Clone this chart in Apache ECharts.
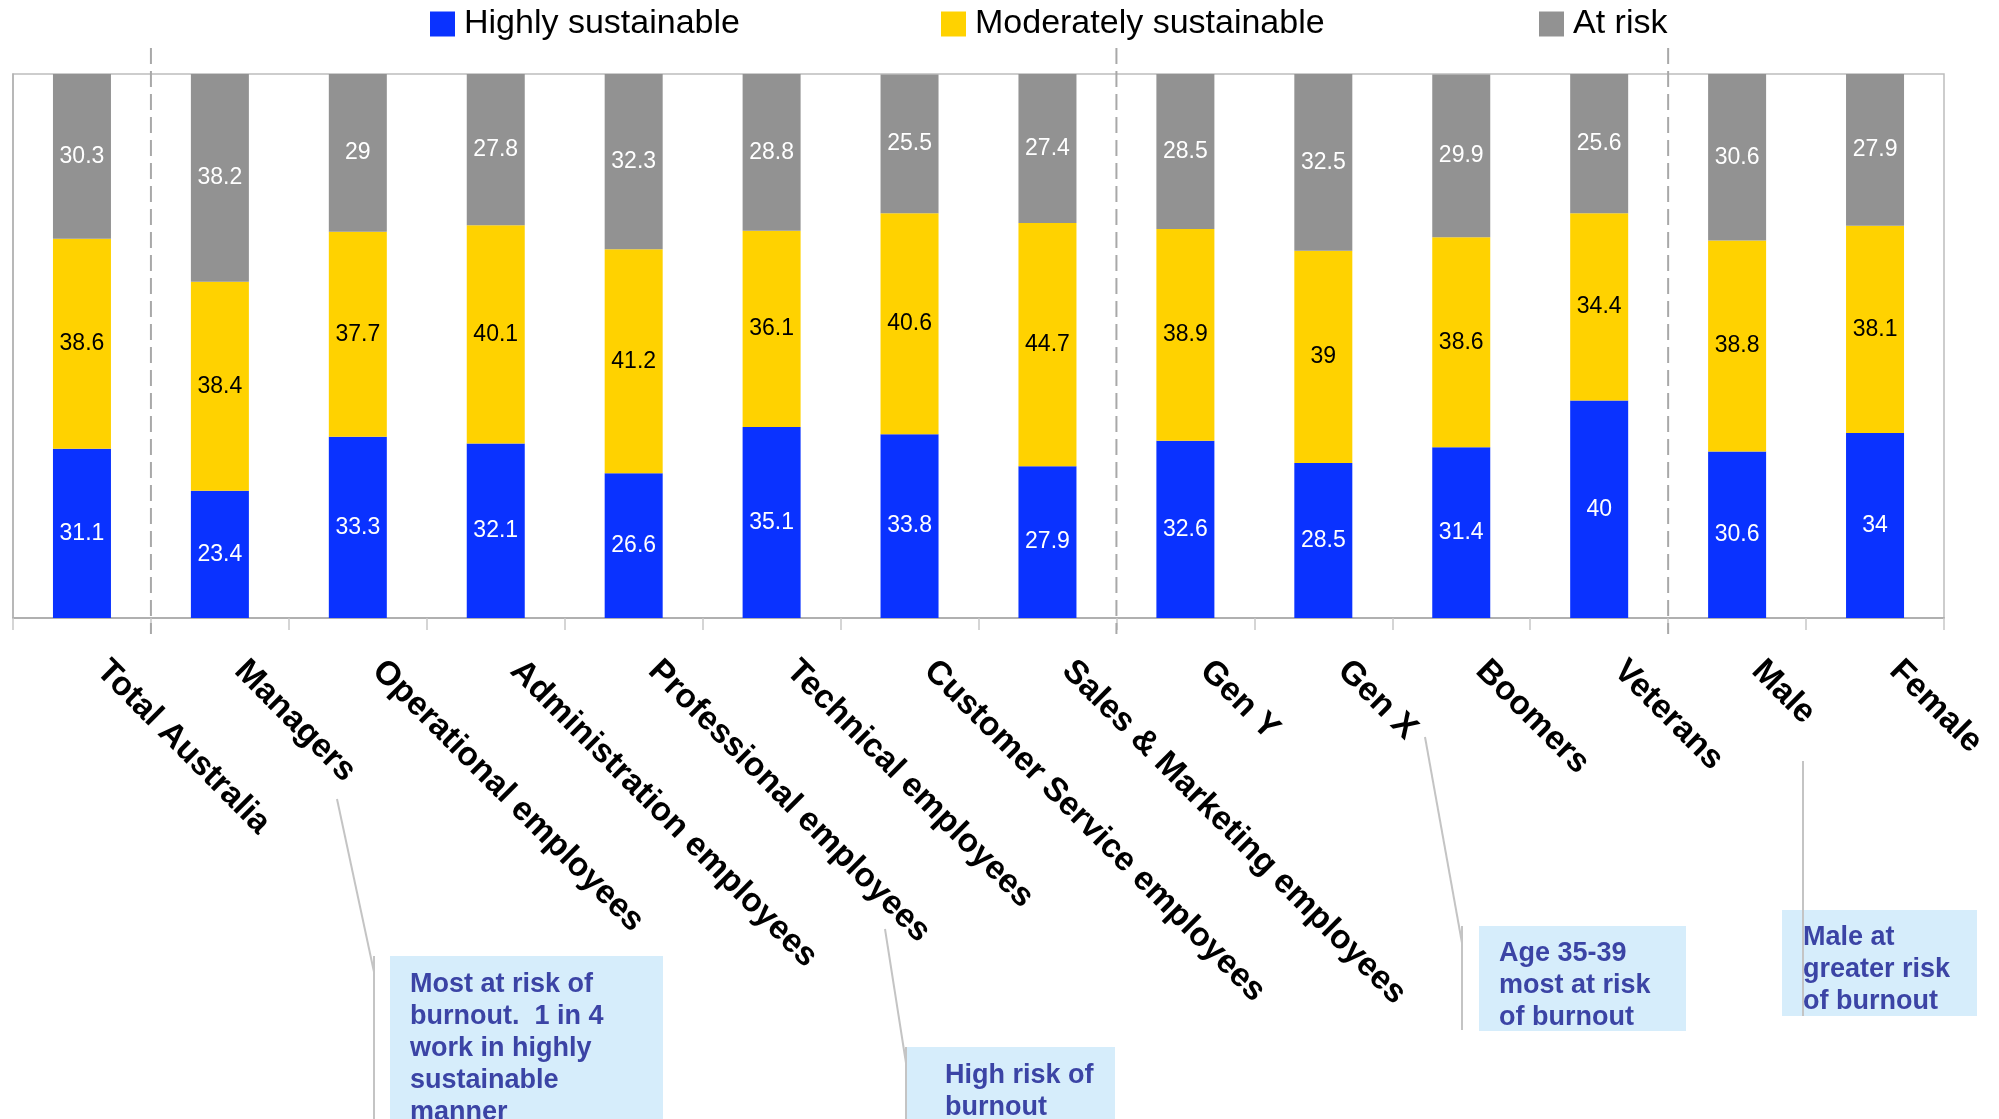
<!DOCTYPE html>
<html>
<head>
<meta charset="utf-8">
<script src="https://cdn.jsdelivr.net/npm/echarts@6/dist/echarts.min.js"></script>
<style>
html,body{margin:0;padding:0;background:#fff;}
#main{width:1999px;height:1119px;}
</style>
</head>
<body>
<div id="main"></div>
<script>
const categories = ['Total Australia','Managers','Operational employees','Administration employees','Professional employees','Technical employees','Customer Service employees','Sales & Marketing employees','Gen Y','Gen X','Boomers','Veterans','Male','Female'];
const highly = [31.1,23.4,33.3,32.1,26.6,35.1,33.8,27.9,32.6,28.5,31.4,40,30.6,34];
const moderately = [38.6,38.4,37.7,40.1,41.2,36.1,40.6,44.7,38.9,39,38.6,34.4,38.8,38.1];
const atRisk = [30.3,38.2,29,27.8,32.3,28.8,25.5,27.4,28.5,32.5,29.9,25.6,30.6,27.9];
const seriesNames = ['Highly sustainable','Moderately sustainable','At risk'];
const groupBreaks = [1, 8, 12];

const FONT = '"Liberation Sans", Arial, sans-serif';
const colors = ['#0A32FF','#FFD200','#929292'];
const chart = echarts.init(document.getElementById('main'));

function barSeries(name, data, color, labelColor){
  return {
    name, type:'bar', stack:'total', data, barWidth:58,
    itemStyle:{color},
    label:{show:true, position:'inside', color:labelColor, fontFamily:FONT, fontSize:23, formatter:p=>String(p.value)}
  };
}
const legendLefts = [425, 936, 1534];
const option = {
  animation:false,
  backgroundColor:'#fff',
  grid:{left:13, right:55, top:74, bottom:501, show:true, borderColor:'#bdbdbd', borderWidth:1.5},
  legend: seriesNames.map((n,i)=>({
    data:[n], left:legendLefts[i], top:2, itemWidth:25, itemHeight:25, icon:'rect',
    textStyle:{fontFamily:FONT, fontSize:34, color:'#000', padding:[0,0,0,4]}
  })),
  xAxis:[{
    type:'category', data:categories,
    axisLine:{lineStyle:{color:'#b0b0b0', width:2}},
    axisTick:{show:true, length:12, lineStyle:{color:'#c8c8c8', width:1.5}},
    axisLabel:{rotate:-45, margin:28, padding:[0,0,0,28], fontFamily:FONT, fontSize:33.5, fontWeight:'bold', color:'#000', interval:0}
  },{
    type:'value', min:0, max:categories.length, show:false, position:'bottom'
  }],
  yAxis:{type:'value', min:0, max:100, axisLabel:{show:false}, splitLine:{show:false},
    axisLine:{show:true, lineStyle:{color:'#b0b0b0', width:1.5}}, axisTick:{show:false}},
  series:[
    barSeries(seriesNames[0], highly, colors[0], '#fff'),
    barSeries(seriesNames[1], moderately, colors[1], '#000'),
    barSeries(seriesNames[2], atRisk, colors[2], '#fff')
  ]
};
chart.setOption(option);

// separators + annotations
const gfx = [];
groupBreaks.forEach(b=>{
  const x = chart.convertToPixel({xAxisIndex:1}, b);
  gfx.push({type:'line', shape:{x1:x,y1:48,x2:x,y2:634}, style:{stroke:'#a8a8a8', lineWidth:2, lineDash:[16,7]}, z:10});
});
const TXT = '#3B44A5', BOX = '#D6EDFB', LEAD = '#c4c4c4';
function note(x,y,w,h,tx,ty,lines){
  gfx.push({type:'rect', shape:{x,y,width:w,height:h}, style:{fill:BOX}, z:5});
  gfx.push({type:'text', x:tx, y:ty, style:{text:lines.join('\n'), fill:TXT, font:'bold 27px '+FONT, lineHeight:32, textVerticalAlign:'top'}, z:6});
}
function lead(pts){
  gfx.push({type:'polyline', shape:{points:pts}, style:{stroke:LEAD, lineWidth:2, fill:null}, z:7});
}
note(390,956,273,200,410,969,['Most at risk of','burnout.  1 in 4','work in highly','sustainable','manner']);
lead([[337,799],[374,972]]); lead([[374,956],[374,1119]]);
note(906,1047,209,100,945,1060,['High risk of','burnout']);
lead([[885,929],[906,1063]]); lead([[906,1047],[906,1119]]);
note(1479,926,207,105,1499,938,['Age 35-39','most at risk','of burnout']);
lead([[1425,737],[1462,943]]); lead([[1462,926],[1462,1030]]);
note(1782,910,195,106,1803,922,['Male at','greater risk','of burnout']);
lead([[1803,761],[1803,1016]]);
chart.setOption({graphic:gfx});
</script>
</body>
</html>
